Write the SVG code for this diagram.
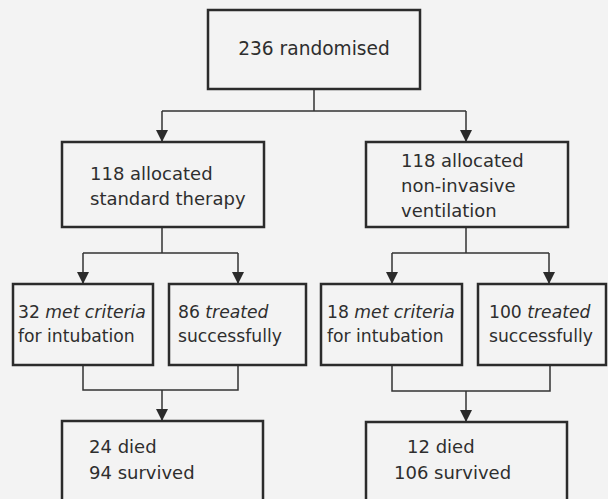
<svg xmlns="http://www.w3.org/2000/svg" width="608" height="499" viewBox="0 0 608 499">
<defs>
<style>
.bg{fill:#f3f3f3}
.box{fill:#f3f3f3;stroke:#2b2b2b;stroke-width:2.5}
.t{font-family:"DejaVu Sans",sans-serif;font-size:18px;fill:#2e2e2e}
.s{font-size:17.2px}
.i{font-style:italic}
.c{fill:none;stroke:#333;stroke-width:1.5}
</style>
<marker id="ah" viewBox="0 0 12 12" refX="12" refY="6" markerWidth="12" markerHeight="12" markerUnits="userSpaceOnUse" orient="auto">
<path d="M0,0 L12,6 L0,12 Z" fill="#2b2b2b"/>
</marker>
</defs>
<rect class="bg" x="0" y="0" width="608" height="499"/>
<g id="connectors">
<path class="c" d="M314,89 V111 M162,111 H466"/>
<path class="c" d="M162,111 V142" marker-end="url(#ah)"/>
<path class="c" d="M466,111 V142" marker-end="url(#ah)"/>
<path class="c" d="M162,227 V253 M83,253 H238"/>
<path class="c" d="M83,253 V284" marker-end="url(#ah)"/>
<path class="c" d="M238,253 V284" marker-end="url(#ah)"/>
<path class="c" d="M466,227 V253 M392,253 H549"/>
<path class="c" d="M392,253 V284" marker-end="url(#ah)"/>
<path class="c" d="M549,253 V284" marker-end="url(#ah)"/>
<path class="c" d="M83,365 V390 H238 V365"/>
<path class="c" d="M162,390 V421" marker-end="url(#ah)"/>
<path class="c" d="M392,365 V391 H550 V365"/>
<path class="c" d="M466,391 V422" marker-end="url(#ah)"/>
</g>
<g id="randomised">
<rect class="box" x="208" y="10" width="212" height="79"/>
<text class="t" x="314" y="55" text-anchor="middle" style="font-size:18.6px">236 randomised</text>
</g>
<g id="standard">
<rect class="box" x="62" y="142" width="202" height="85"/>
<text class="t" x="90" y="180">118 allocated</text>
<text class="t" x="90" y="205">standard therapy</text>
</g>
<g id="niv">
<rect class="box" x="366" y="142" width="202" height="85"/>
<text class="t" x="401" y="167">118 allocated</text>
<text class="t" x="401" y="192">non-invasive</text>
<text class="t" x="401" y="217">ventilation</text>
</g>
<g id="std-intubation">
<rect class="box" x="13" y="284" width="140" height="81"/>
<text class="t s" x="18" y="318">32 <tspan class="i">met criteria</tspan></text>
<text class="t s" x="18" y="342">for intubation</text>
</g>
<g id="std-success">
<rect class="box" x="169" y="284" width="137" height="81"/>
<text class="t s" x="178" y="318">86 <tspan class="i">treated</tspan></text>
<text class="t s" x="178" y="342">successfully</text>
</g>
<g id="niv-intubation">
<rect class="box" x="321" y="284" width="141" height="81"/>
<text class="t s" x="327" y="318">18 <tspan class="i">met criteria</tspan></text>
<text class="t s" x="327" y="342">for intubation</text>
</g>
<g id="niv-success">
<rect class="box" x="478" y="284" width="128" height="81"/>
<text class="t s" x="489" y="318">100 <tspan class="i">treated</tspan></text>
<text class="t s" x="489" y="342">successfully</text>
</g>
<g id="std-outcome">
<rect class="box" x="62" y="421" width="201" height="100"/>
<text class="t" x="89" y="453">24 died</text>
<text class="t" x="89" y="479">94 survived</text>
</g>
<g id="niv-outcome">
<rect class="box" x="366" y="422" width="201" height="100"/>
<text class="t" x="407" y="453">12 died</text>
<text class="t" x="394" y="479">106 survived</text>
</g>
</svg>
